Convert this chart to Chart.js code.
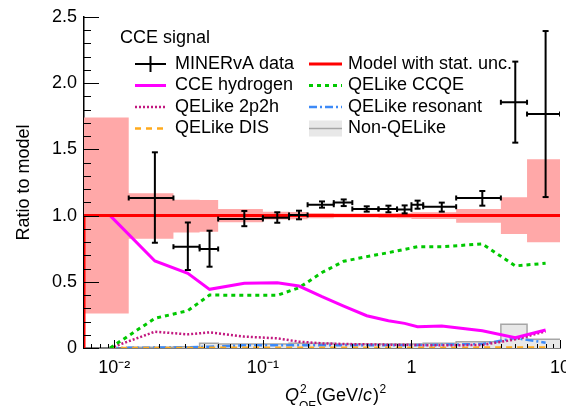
<!DOCTYPE html>
<html><head><meta charset="utf-8">
<script src="https://cdn.jsdelivr.net/npm/chart.js@4.4.1/dist/chart.umd.min.js"></script>
<style>html,body{margin:0;padding:0;background:#fff;} #wrap{width:566px;height:406px;position:relative;overflow:hidden;}</style>
</head><body><div id="wrap"><canvas id="c" width="566" height="406"></canvas></div>
<script>
// ---- data ----
const binEdges = [0.00625, 0.0125, 0.025, 0.0375, 0.05, 0.1, 0.15, 0.2, 0.3, 0.4, 0.6, 0.8, 1.0, 1.2, 2.0, 4.0, 6.0, 10.0];
const binCenters = [0.009375, 0.01875, 0.03125, 0.04375, 0.075, 0.125, 0.175, 0.25, 0.35, 0.5, 0.7, 0.9, 1.1, 1.6, 3.0, 5.0, 8.0];
const dataRatio   = [null, 1.133, 0.765, 0.748, 0.974, 0.984, 1.005, 1.082, 1.098, 1.050, 1.050, 1.047, 1.082, 1.067, 1.133, 1.856, 1.767];
const dataErrHigh = [null, 1.478, 0.948, 0.886, 1.035, 1.025, 1.037, 1.107, 1.122, 1.070, 1.075, 1.077, 1.113, 1.098, 1.186, 2.163, 2.394];
const dataErrLow  = [null, 0.795, 0.589, 0.614, 0.920, 0.946, 0.972, 1.060, 1.072, 1.030, 1.025, 1.017, 1.052, 1.030, 1.075, 1.551, 1.140];
const modelRatio  = [1, 1, 1, 1, 1, 1, 1, 1, 1, 1, 1, 1, 1, 1, 1, 1, 1];
const modelBandHigh = [1.74, 1.168, 1.12, 1.118, 1.05, 1.03, 1.027, 1.02, 1.015, 1.015, 1.018, 1.02, 1.025, 1.025, 1.05, 1.138, 1.425];
const modelBandLow  = [0.26, 0.826, 0.873, 0.878, 0.95, 0.97, 0.973, 0.98, 0.985, 0.985, 0.982, 0.98, 0.975, 0.975, 0.946, 0.861, 0.798];
const cceHydrogen = [1.0, 0.657, 0.564, 0.443, 0.489, 0.493, 0.468, 0.388, 0.317, 0.244, 0.206, 0.186, 0.161, 0.166, 0.13, 0.078, 0.136];
const qelikeCCQE  = [0.0, 0.224, 0.282, 0.40, 0.398, 0.398, 0.455, 0.57, 0.655, 0.69, 0.72, 0.745, 0.765, 0.765, 0.786, 0.62, 0.64];
const qelike2p2h  = [0.0, 0.123, 0.103, 0.118, 0.086, 0.073, 0.048, 0.035, 0.03, 0.028, 0.025, 0.025, 0.022, 0.02, 0.023, 0.065, 0.125];
const qelikeRES   = [0.0, 0.003, 0.005, 0.01, 0.02, 0.02, 0.02, 0.02, 0.02, 0.02, 0.02, 0.02, 0.022, 0.025, 0.03, 0.075, 0.04];
const qelikeDIS   = [0.0, 0.0, 0.0, 0.001, 0.001, 0.001, 0.001, 0.001, 0.001, 0.001, 0.001, 0.001, 0.002, 0.002, 0.003, 0.004, 0.004];
const nonQELike   = [0.0, 0.005, 0.01, 0.035, 0.03, 0.03, 0.035, 0.035, 0.03, 0.03, 0.03, 0.03, 0.03, 0.035, 0.048, 0.18, 0.066];
const yTickValues = [0, 0.5, 1.0, 1.5, 2.0, 2.5];
const yTickLabels = ['0', '0.5', '1.0', '1.5', '2.0', '2.5'];
const xTickValues = [0.01, 0.1, 1, 10];
const xTickLabels = ['10\u207B\u00B2', '10\u207B\u00B9', '1', '10'];
const yTitle = 'Ratio to model';
const legendTitle = 'CCE signal';
const legendLabels = ['MINERvA data', 'CCE hydrogen', 'QELike 2p2h', 'QELike DIS', 'Model with stat. unc.', 'QELike CCQE', 'QELike resonant', 'Non-QELike'];

// ---- helpers building library points from the arrays ----
function stepPts(vals, fromZero) {
  const p = [];
  if (fromZero) p.push({x: binEdges[0], y: 0});
  vals.forEach((v, i) => { p.push({x: binEdges[i], y: v}); p.push({x: binEdges[i + 1], y: v}); });
  return p;
}
function curvePts(vals) { return vals.map((v, i) => ({x: binCenters[i], y: v})); }
function vErrPts() {
  const p = [];
  dataRatio.forEach((v, i) => { if (v === null) return;
    p.push({x: binCenters[i], y: dataErrLow[i]}); p.push({x: binCenters[i], y: dataErrHigh[i]}); p.push({x: binCenters[i], y: null}); });
  return p;
}
function hErrPts() {
  const p = [];
  dataRatio.forEach((v, i) => { if (v === null) return;
    p.push({x: binEdges[i], y: v}); p.push({x: binEdges[i + 1], y: v}); p.push({x: binEdges[i + 1], y: null}); });
  return p;
}

const COL = {
  data: '#000000', model: '#ff0000', band: '#ffa8a8', hyd: '#ff00ff', ccqe: '#00c800',
  p2h: '#c2187f', res: '#3d8af7', dis: '#ffaa1c', nonqeFill: '#e8e8e8', nonqeLine: '#a6a6a6'
};
const FONT = 'Liberation Sans, Arial, Helvetica, sans-serif';

const line = (extra) => Object.assign({type: 'line', pointRadius: 0, tension: 0, fill: false, spanGaps: false}, extra);

const datasets = [
  line({label: 'bandLow', data: stepPts(modelBandLow, false), borderWidth: 0, borderColor: 'rgba(0,0,0,0)', order: 20}),
  line({label: 'bandHigh', data: stepPts(modelBandHigh, false), borderWidth: 0, borderColor: 'rgba(0,0,0,0)', backgroundColor: COL.band, fill: 0, order: 19}),
  line({label: 'Non-QELike', data: stepPts(nonQELike, true), borderWidth: 1.5, borderColor: COL.nonqeLine, backgroundColor: COL.nonqeFill, fill: 'origin', order: 18}),
  line({label: 'QELike resonant', data: curvePts(qelikeRES), borderWidth: 2.5, borderColor: COL.res, borderDash: [8, 3, 2, 3], order: 17}),
  line({label: 'QELike DIS', data: curvePts(qelikeDIS), borderWidth: 2.5, borderColor: COL.dis, borderDash: [6, 5], order: 16}),
  line({label: 'QELike 2p2h', data: curvePts(qelike2p2h), borderWidth: 2.5, borderColor: COL.p2h, borderDash: [2, 2], order: 15}),
  line({label: 'QELike CCQE', data: curvePts(qelikeCCQE), borderWidth: 3, borderColor: COL.ccqe, borderDash: [4, 4], order: 14}),
  line({label: 'CCE hydrogen', data: curvePts(cceHydrogen), borderWidth: 3, borderColor: COL.hyd, order: 13}),
  line({label: 'Model', data: stepPts(modelRatio, true), borderWidth: 3, borderColor: COL.model, order: 12}),
  line({label: 'dataV', data: vErrPts(), borderWidth: 2, borderColor: COL.data, pointRadius: 3, pointStyle: 'line', pointBorderWidth: 2, pointBorderColor: COL.data, order: 2}),
  line({label: 'dataH', data: hErrPts(), borderWidth: 2, borderColor: COL.data, pointRadius: 2.5, pointStyle: 'line', pointRotation: 90, pointBorderWidth: 2, pointBorderColor: COL.data, order: 1})
];

// inward ticks drawn from the library scales
const innerTicks = {
  id: 'innerTicks',
  afterDatasetsDraw(chart) {
    const ctx = chart.ctx, xs = chart.scales.x, ys = chart.scales.y, a = chart.chartArea;
    ctx.save(); ctx.strokeStyle = '#000'; ctx.lineWidth = 1;
    for (let k = 0; k <= 25; k++) {
      const v = k / 10, py = Math.round(ys.getPixelForValue(v)) + 0.5;
      const len = (k % 5 === 0) ? 15 : 7;
      ctx.beginPath(); ctx.moveTo(a.left, py); ctx.lineTo(a.left + len, py); ctx.stroke();
    }
    for (let e = -3; e <= 1; e++) {
      for (let m = 1; m <= 9; m++) {
        const v = m * Math.pow(10, e);
        if (v < xs.min * 0.999 || v > xs.max * 1.001) continue;
        const px = Math.round(xs.getPixelForValue(v)) + 0.5;
        const len = (m === 1) ? 8 : 4;
        ctx.beginPath(); ctx.moveTo(px, a.bottom); ctx.lineTo(px, a.bottom - len); ctx.stroke();
      }
    }
    ctx.restore();
  }
};

// x-axis title (rich text) and legend
const annotations = {
  id: 'annotations',
  afterDraw(chart) {
    const ctx = chart.ctx;
    ctx.save();
    ctx.fillStyle = '#000'; ctx.textBaseline = 'alphabetic';
    // x title
    let x = 285; const base = 401;
    ctx.font = 'italic 18px ' + FONT; ctx.fillText('Q', x, base);
    const qw = ctx.measureText('Q').width;
    ctx.font = '12px ' + FONT; ctx.fillText('2', x + qw + 1, base - 8);
    ctx.fillText('QE', x + qw, base + 9);
    x = x + qw + 17;
    ctx.font = '18px ' + FONT; ctx.fillText('(GeV/', x, base); x += ctx.measureText('(GeV/').width;
    ctx.font = 'italic 18px ' + FONT; ctx.fillText('c', x, base); x += ctx.measureText('c').width + 1;
    ctx.font = '18px ' + FONT; ctx.fillText(')', x, base); x += ctx.measureText(')').width;
    ctx.font = '12px ' + FONT; ctx.fillText('2', x + 0.5, base - 8);

    // legend
    ctx.font = '18px ' + FONT; ctx.textBaseline = 'middle';
    ctx.fillText(legendTitle, 120, 38);
    const rows = [64, 85.5, 107, 128.5];
    const cols = [{s0: 135, s1: 166, t: 175}, {s0: 309, s1: 342, t: 348}];
    const styles = [
      {c: COL.data, w: 2, d: [], cross: true}, {c: COL.hyd, w: 3, d: []}, {c: COL.p2h, w: 2.5, d: [2, 2]}, {c: COL.dis, w: 2.5, d: [6, 5]},
      {c: COL.model, w: 3, d: []}, {c: COL.ccqe, w: 3, d: [4, 4]}, {c: COL.res, w: 2.5, d: [8, 3, 2, 3]}, {c: COL.nonqeLine, w: 1.5, d: [], box: true}
    ];
    legendLabels.forEach((lab, i) => {
      const col = cols[Math.floor(i / 4)], y = rows[i % 4], st = styles[i];
      if (st.box) { ctx.fillStyle = COL.nonqeFill; ctx.fillRect(col.s0, y - 8, col.s1 - col.s0, 16); }
      ctx.strokeStyle = st.c; ctx.lineWidth = st.w; ctx.setLineDash(st.d);
      ctx.beginPath(); ctx.moveTo(col.s0, y); ctx.lineTo(col.s1, y); ctx.stroke();
      if (st.cross) { const cx = (col.s0 + col.s1) / 2; ctx.beginPath(); ctx.moveTo(cx, y - 8); ctx.lineTo(cx, y + 8); ctx.stroke(); }
      ctx.setLineDash([]);
      ctx.fillStyle = '#000'; ctx.fillText(lab, col.t, y);
    });
    ctx.restore();
  }
};

new Chart(document.getElementById('c'), {
  data: {datasets},
  options: {
    responsive: false, animation: false, devicePixelRatio: 1,
    layout: {padding: {top: 17, right: 4, left: 0, bottom: 0}},
    plugins: {legend: {display: false}, tooltip: {enabled: false}},
    scales: {
      x: {
        type: 'logarithmic', min: 0.00625, max: 10,
        grid: {display: false, drawTicks: false},
        border: {display: true, color: '#000', width: 1.5},
        afterBuildTicks: s => { s.ticks = xTickValues.map(v => ({value: v})); },
        ticks: {autoSkip: false, maxRotation: 0, padding: 9, color: '#000', font: {size: 18, family: FONT},
          callback: (v, i) => xTickLabels[i]},
        afterFit: s => { s.height = 58; s.paddingLeft = 0; s.paddingRight = 0; }
      },
      y: {
        type: 'linear', min: 0, max: 2.5,
        grid: {display: false, drawTicks: false},
        border: {display: true, color: '#000', width: 1.5},
        afterBuildTicks: s => { s.ticks = yTickValues.map(v => ({value: v})); },
        ticks: {autoSkip: false, padding: 7, color: '#000', font: {size: 18, family: FONT},
          callback: (v, i) => yTickLabels[i]},
        title: {display: true, text: yTitle, color: '#000', font: {size: 18, family: FONT}, padding: {top: 13, bottom: 0}},
        afterFit: s => { s.width = 84; s.paddingTop = 0; s.paddingBottom = 0; }
      }
    }
  },
  plugins: [innerTicks, annotations]
});
</script>
</body></html>
